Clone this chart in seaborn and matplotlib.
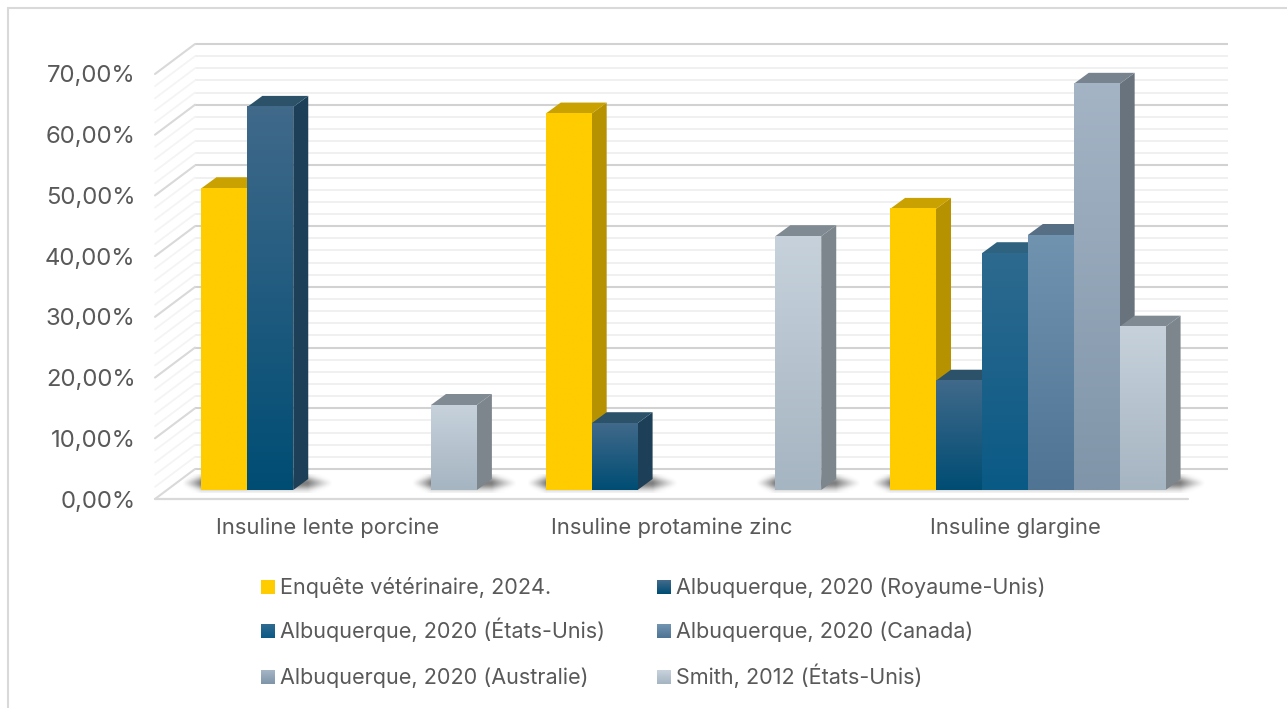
import numpy as np
import pandas as pd
import matplotlib
matplotlib.use("Agg")
import matplotlib.pyplot as plt
import seaborn as sns
from matplotlib.colors import to_rgb
from matplotlib.patches import Polygon, Rectangle
from matplotlib.transforms import Affine2D

# values, None = no bar
categories = ["Insuline lente porcine", "Insuline protamine zinc", "Insuline glargine"]
series_names = [
    "Enquête vétérinaire, 2024.",
    "Albuquerque, 2020 (Royaume-Unis)",
    "Albuquerque, 2020 (États-Unis)",
    "Albuquerque, 2020 (Canada)",
    "Albuquerque, 2020 (Australie)",
    "Smith, 2012 (États-Unis)",
]
enquete = [49.7, 62.0, 46.3]
albu_uk = [63.1, 11.0, 18.0]
albu_us = [None, None, 39.0]
albu_ca = [None, None, 42.0]
albu_au = [None, None, 66.9]
smith = [14.0, 41.8, 26.9]
all_series = [enquete, albu_uk, albu_us, albu_ca, albu_au, smith]

major_ticks = [0, 10, 20, 30, 40, 50, 60, 70]
minor_ticks = [v for v in range(0, 71, 2) if v % 10 != 0]
tick_labels = ["0,00%", "10,00%", "20,00%", "30,00%", "40,00%", "50,00%", "60,00%", "70,00%"]

# top colour, bottom colour, side face, top face
styles = [
    ("#FFCC00", "#FFCC00", "#B79200", "#C9A100"),
    ("#40698A", "#004D74", "#1D4058", "#2B5269"),
    ("#2E6A8F", "#0A5A86", "#1D4F6B", "#2F627F"),
    ("#7093B0", "#4F7494", "#48627A", "#566F85"),
    ("#A4B4C5", "#8095A9", "#69737E", "#77848F"),
    ("#C6D1DB", "#A6B5C2", "#7D858D", "#7F8A92"),
]

W, H = 1287, 708
FRONT_L, FRONT_R, FRONT_0, FRONT_70 = 155, 1188, 499, 74
font = "Inter"
text_col = "#595959"

sns.set_theme(style="white")
plt.rcParams["font.family"] = [font, "DejaVu Sans"]

df = pd.DataFrame({"categorie": categories * 6,
                   "valeur": [v for s in all_series for v in s],
                   "serie": [n for n in series_names for _ in categories]}).dropna()

fig = plt.figure(figsize=(W / 100, H / 100), dpi=100, facecolor="white")
ax = fig.add_axes([FRONT_L / W, 1 - FRONT_0 / H, (FRONT_R - FRONT_L) / W, (FRONT_0 - FRONT_70) / H])
ax.patch.set_alpha(0)

sns.barplot(data=df, x="categorie", y="valeur", hue="serie", order=categories, hue_order=series_names,
            palette=[s[0] for s in styles], width=0.8, gap=0, legend=False, ax=ax, saturation=1)
bars = sorted([(b, slot) for slot, cont in enumerate(ax.containers) for b in cont if b.get_height() > 0],
              key=lambda t: t[0].get_x())
ax.set_xlim(-0.5, 2.5)
ax.set_ylim(0, 70)

px_x = (FRONT_R - FRONT_L) / 3
px_y = (FRONT_0 - FRONT_70) / 70


def shift(dx, dy):
    # offset in pixels, y going up, on top of the data scale
    return ax.transData + Affine2D().translate(dx, dy)


# back wall and left wall
for vals, col, side_col, lw in [(minor_ticks, "#EFEFEF", "#F4F4F4", 1.3), (major_ticks, "#D2D2D2", "#D9D9D9", 1.5)]:
    ax.hlines(vals, -0.5, 2.5, color=col, lw=lw, transform=shift(40, 30), clip_on=False, zorder=1)
    for v in vals:
        ax.plot([-0.5, -0.5 + 40 / px_x], [v, v + 30 / px_y], color=side_col, lw=lw, clip_on=False, zorder=1)
# floor
ax.plot([-0.5, 2.5], [0, 0], color="#D9D9D9", lw=1.6, clip_on=False, zorder=1)

# shadows under each run of touching bars
bar_tr = shift(12, 9)
runs = []
for b, _ in bars:
    if runs and abs(runs[-1][1] - b.get_x()) < 1e-6:
        runs[-1][1] = b.get_x() + b.get_width()
    else:
        runs.append([b.get_x(), b.get_x() + b.get_width()])
for x0, x1 in runs:
    left, right = x0 - 19 / px_x, x1 + 40 / px_x
    xs = np.linspace(left, right, 300)
    ys = np.linspace(16, -3, 40)
    fx = np.clip((xs - left) / (x0 - left), 0, 1) * np.clip((right - xs) / (right - x1 - 15 / px_x), 0, 1)
    # wedge: the band gets thinner and paler away from the bar
    alpha = 0.7 * fx[None, :] ** 1.3 * np.exp(-((ys[:, None] - 7) / (2.5 + 4 * fx[None, :])) ** 2)
    img = np.zeros((40, 300, 4))
    img[..., :3] = 0.28
    img[..., 3] = alpha
    im = ax.imshow(img, extent=(left, right, -3 / px_y, 16 / px_y), aspect="auto", transform=bar_tr,
                   zorder=2, interpolation="bilinear")
    im.set_clip_on(False)

# faces of the bars, left to right so the later ones cover the earlier ones
depth_x, depth_y = 15 / px_x, 11 / px_y
for i, (b, slot) in enumerate(bars):
    top_c, bot_c, side_c, lid_c = styles[slot]
    x, w, h = b.get_x(), b.get_width(), b.get_height()
    z = 3 + i
    b.set_transform(bar_tr)
    b.set_clip_on(False)
    b.set_zorder(z + 0.3)
    b.set_linewidth(0)
    ax.add_patch(Polygon([(x + w, 0), (x + w + depth_x, depth_y), (x + w + depth_x, h + depth_y), (x + w, h)],
                         fc=side_c, ec="none", transform=bar_tr, clip_on=False, zorder=z))
    ax.add_patch(Polygon([(x, h), (x + depth_x, h + depth_y), (x + w + depth_x, h + depth_y), (x + w, h)],
                         fc=lid_c, ec="none", transform=bar_tr, clip_on=False, zorder=z))
    grad = np.linspace(to_rgb(top_c), to_rgb(bot_c), 64)[:, None, :]
    im = ax.imshow(grad, extent=(x, x + w, 0, h), aspect="auto", transform=bar_tr, zorder=z + 0.5,
                   interpolation="bilinear")
    im.set_clip_on(False)

ax.set_xlim(-0.5, 2.5)
ax.set_ylim(0, 70)
sns.despine(ax=ax, left=True, bottom=True)
ax.set_xlabel("")
ax.set_ylabel("")
ax.set_yticks(major_ticks, tick_labels)
ax.tick_params(axis="y", length=0, pad=14, labelsize=17.2, labelcolor=text_col)
ax.tick_params(axis="x", length=0, pad=13.5, labelsize=15.85, labelcolor=text_col)

# legend written by hand so both columns share the same rows
for k, (slot, sx, sy) in enumerate([(0, 261, 587), (2, 261, 631), (4, 261, 677),
                                    (1, 657, 587), (3, 657, 631), (5, 657, 677)]):
    cols = np.linspace(to_rgb(styles[slot][0]), to_rgb(styles[slot][1]), 14)
    for r, c in enumerate(cols):
        fig.add_artist(Rectangle((sx / W, 1 - (sy - 7 + r + 1) / H), 14 / W, 1.2 / H, transform=fig.transFigure,
                                 fc=c, ec="none"))
    fig.text((sx + 19.5) / W, 1 - (sy + 7) / H, series_names[slot], color=text_col, fontsize=15.55,
             va="baseline", ha="left")

fig.add_artist(Rectangle((8 / W, -0.02), (W + 30) / W, 1 - 8 / H + 0.02, transform=fig.transFigure,
                         fill=False, ec="#D9D9D9", lw=1.5))

fig.savefig("out.png", dpi=100)
plt.close(fig)
